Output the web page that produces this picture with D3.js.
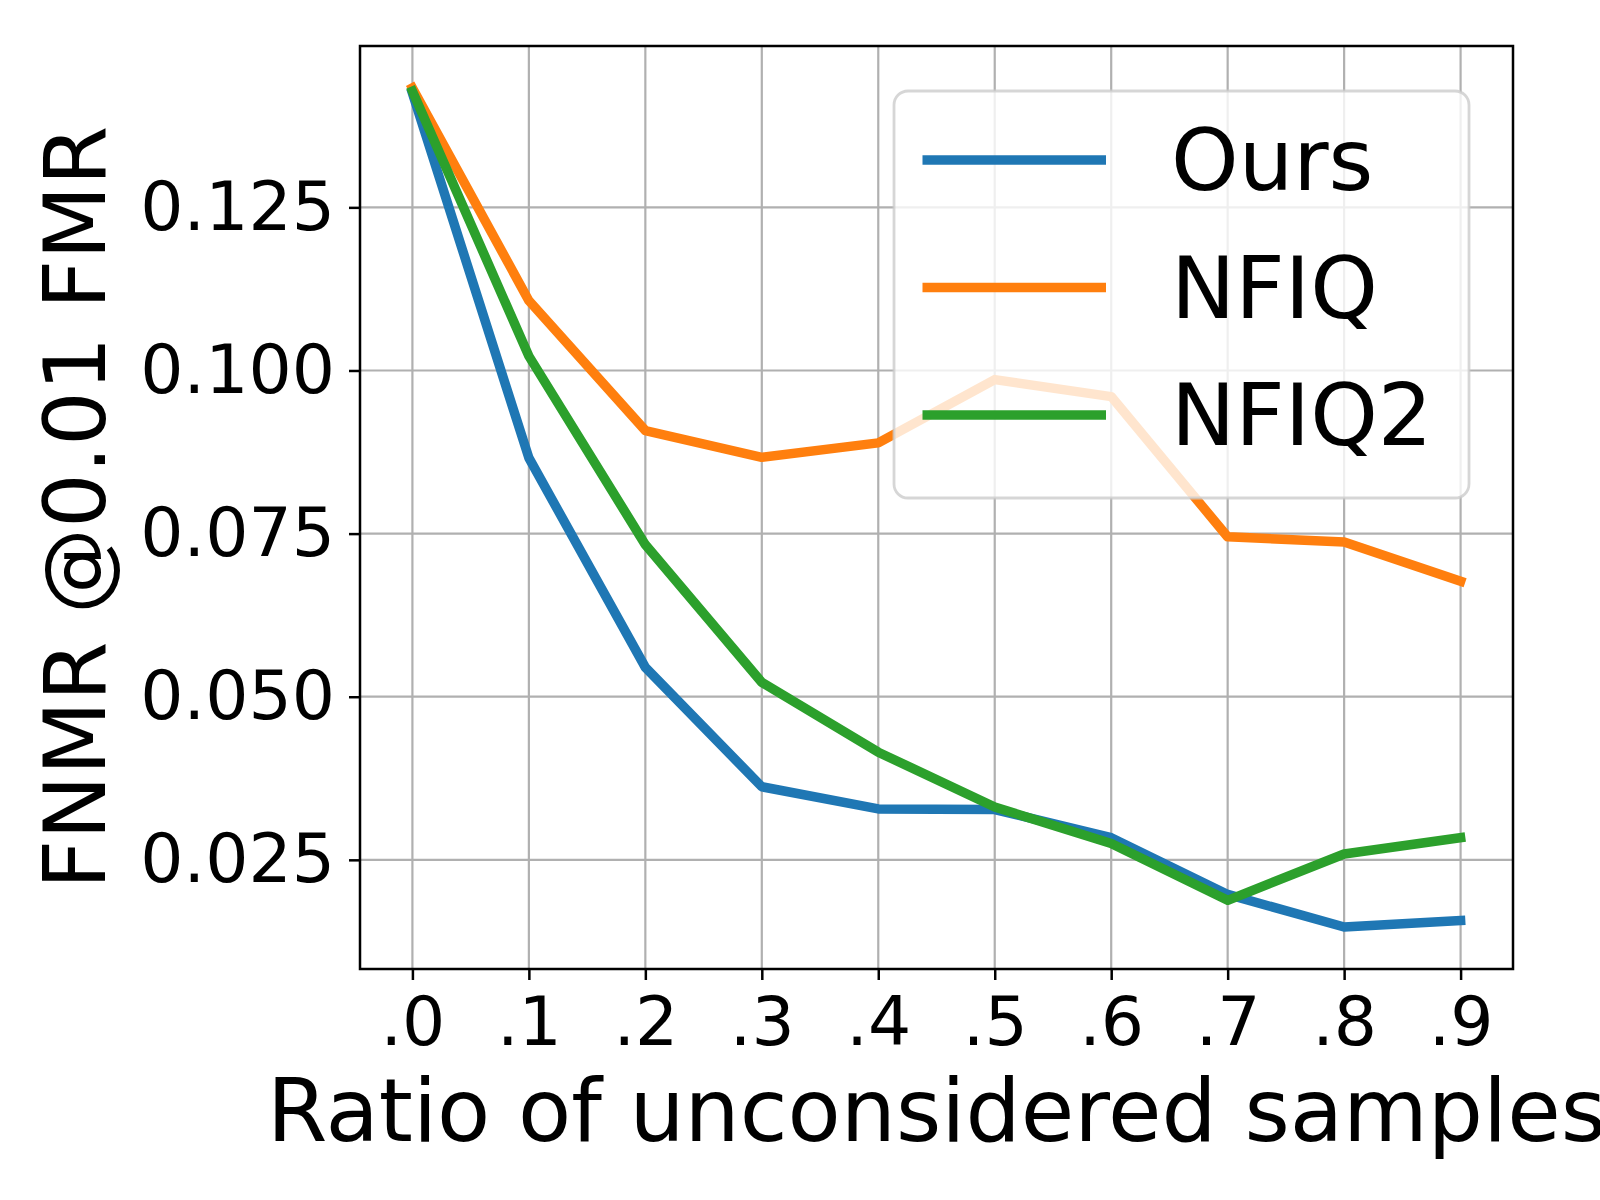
<html lang="en">
<head>
    <title>FNMR vs ratio of unconsidered samples</title>
    <meta charset="utf-8">
    <script src="https://cdn.jsdelivr.net/npm/d3@7"></script>
    <style>
        body { margin: 0; background: #ffffff; }
        text { font-family: "DejaVu Sans", sans-serif; }
    </style>
</head>

<body></body>

<script type="text/javascript">

    //****************************************************************************************************************************//
    //	Data

    const ratios = [0.0, 0.1, 0.2, 0.3, 0.4, 0.5, 0.6, 0.7, 0.8, 0.9];
    const xTickLabels = [".0", ".1", ".2", ".3", ".4", ".5", ".6", ".7", ".8", ".9"];
    const yTicks = [0.025, 0.050, 0.075, 0.100, 0.125];

    const seriesNames = ["Ours", "NFIQ", "NFIQ2"];
    const seriesColors = ["#1f77b4", "#ff7f0e", "#2ca02c"];

    const ours  = [0.1425, 0.0866, 0.0545, 0.0362, 0.0328, 0.0327, 0.0284, 0.0197, 0.0147, 0.0157];
    const nfiq  = [0.1433, 0.1107, 0.0908, 0.0867, 0.0889, 0.0986, 0.0960, 0.0745, 0.0737, 0.0677];
    const nfiq2 = [0.1428, 0.1022, 0.0733, 0.0522, 0.0415, 0.0331, 0.0275, 0.0188, 0.0259, 0.0284];

    const seriesValues = [ours, nfiq, nfiq2];

    //****************************************************************************************************************************//
    //	Layout

    const width = 1600, height = 1200;
    const margin = {top: 46, right: 87, bottom: 231, left: 360};
    const innerW = width - margin.left - margin.right;
    const innerH = height - margin.top - margin.bottom;

    const svg = d3.select("body")
        .append("svg")
        .attr("width", width)
        .attr("height", height);

    svg.append("rect")
        .attr("width", width)
        .attr("height", height)
        .attr("fill", "#ffffff");

    const g = svg.append("g")
        .attr("transform", `translate(${margin.left},${margin.top})`);

    // matplotlib style 5% padding around the data range
    const xPad = 0.05 * (d3.max(ratios) - d3.min(ratios));
    const x = d3.scaleLinear()
        .domain([d3.min(ratios) - xPad, d3.max(ratios) + xPad])
        .range([0, innerW]);

    const allValues = seriesValues.flat();
    const yMin = d3.min(allValues), yMax = d3.max(allValues);
    const yPad = 0.05 * (yMax - yMin);
    const y = d3.scaleLinear()
        .domain([yMin - yPad, yMax + yPad])
        .range([innerH, 0]);

    //****************************************************************************************************************************//
    //	Grid

    g.append("g")
        .selectAll("line")
        .data(ratios)
        .join("line")
        .attr("x1", d => x(d)).attr("x2", d => x(d))
        .attr("y1", 0).attr("y2", innerH)
        .attr("stroke", "#b0b0b0")
        .attr("stroke-width", 2.2);

    g.append("g")
        .selectAll("line")
        .data(yTicks)
        .join("line")
        .attr("x1", 0).attr("x2", innerW)
        .attr("y1", d => y(d)).attr("y2", d => y(d))
        .attr("stroke", "#b0b0b0")
        .attr("stroke-width", 2.2);

    //****************************************************************************************************************************//
    //	Lines

    const line = d3.line()
        .x((d, i) => x(ratios[i]))
        .y(d => y(d));

    seriesValues.forEach((vals, i) => {
        g.append("path")
            .datum(vals)
            .attr("d", line)
            .attr("fill", "none")
            .attr("stroke", seriesColors[i])
            .attr("stroke-width", 9.5)
            .attr("stroke-linejoin", "round")
            .attr("stroke-linecap", "square");
    });

    //****************************************************************************************************************************//
    //	Axes

    const xAxis = g.append("g")
        .attr("transform", `translate(0,${innerH})`)
        .call(d3.axisBottom(x)
            .tickValues(ratios)
            .tickFormat((d, i) => xTickLabels[i])
            .tickSize(11)
            .tickPadding(17));

    const yAxis = g.append("g")
        .call(d3.axisLeft(y)
            .tickValues(yTicks)
            .tickFormat(d3.format(".3f"))
            .tickSize(11)
            .tickPadding(14));

    [xAxis, yAxis].forEach(ax => {
        ax.select(".domain").remove();
        ax.selectAll(".tick line").attr("stroke", "#000").attr("stroke-width", 2.5);
        ax.selectAll(".tick text")
            .attr("fill", "#000")
            .style("font-size", "68px")
            .style("font-family", "'DejaVu Sans', sans-serif");
    });

    // spines
    g.append("rect")
        .attr("width", innerW)
        .attr("height", innerH)
        .attr("fill", "none")
        .attr("stroke", "#000")
        .attr("stroke-width", 2.5);

    // axis titles
    svg.append("text")
        .attr("x", margin.left + innerW / 2)
        .attr("y", 1141)
        .attr("text-anchor", "middle")
        .style("font-size", "87px")
        .text("Ratio of unconsidered samples");

    svg.append("text")
        .attr("transform", `translate(105,${margin.top + innerH / 2}) rotate(-90)`)
        .attr("text-anchor", "middle")
        .style("font-size", "86px")
        .text("FNMR @0.01 FMR");

    //****************************************************************************************************************************//
    //	Legend

    const legend = svg.append("g").attr("transform", "translate(894,91)");

    legend.append("rect")
        .attr("width", 575)
        .attr("height", 407)
        .attr("rx", 14)
        .attr("fill", "#ffffff")
        .attr("fill-opacity", 0.8)
        .attr("stroke", "#cccccc")
        .attr("stroke-opacity", 0.8)
        .attr("stroke-width", 2.8);

    const rows = legend.selectAll("g.row")
        .data(seriesNames)
        .join("g")
        .attr("class", "row")
        .attr("transform", (d, i) => `translate(0,${69 + i * 127.5})`);

    rows.append("line")
        .attr("x1", 28.5).attr("x2", 212)
        .attr("stroke", (d, i) => seriesColors[i])
        .attr("stroke-width", 9.5);

    rows.append("text")
        .attr("x", 277)
        .attr("y", 30)
        .style("font-size", "86px")
        .text(d => d);

</script>
</html>
